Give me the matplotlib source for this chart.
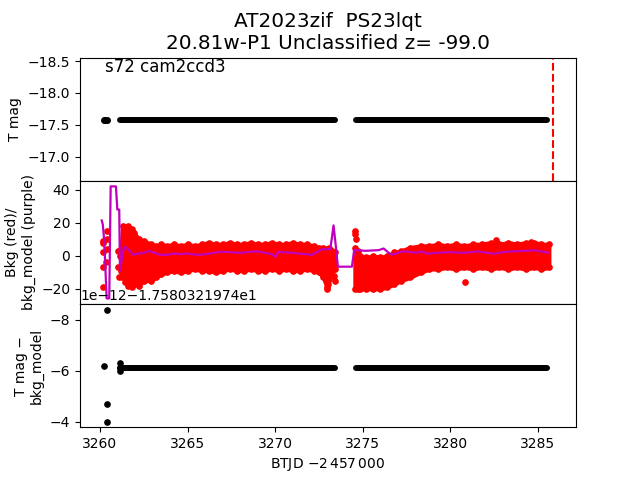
import matplotlib
matplotlib.use('Agg')
import matplotlib.pyplot as plt
from matplotlib.ticker import FuncFormatter
import numpy as np

# light curve: sector 72, cam2 ccd3
title = 'AT2023zif  PS23lqt\n20.81w-P1 Unclassified z= -99.0'
sector_label = 's72 cam2ccd3'
t_mark = 3285.86

# T mag: dense cadence rows drawn as [start, end] runs plus a few early points
row_start = [3261.17, 3274.61]
row_end = [3273.40, 3285.54]
tmag_row = -17.5803
early_t = [3260.21, 3260.30, 3260.42]
early_tmag = [-17.5803, -17.5803, -17.5803]

# background envelope (min/max of the dense red scatter), two orbits
envA_t = [3261.20, 3261.30, 3261.45, 3261.60, 3261.80, 3261.95, 3262.20, 3262.50, 3262.90,
          3263.20, 3263.50, 3263.80, 3264.20, 3264.60, 3265.00, 3265.40, 3265.80, 3266.20,
          3266.60, 3267.00, 3267.40, 3267.80, 3268.20, 3268.60, 3269.00, 3269.40, 3269.80,
          3270.20, 3270.60, 3271.00, 3271.40, 3271.80, 3272.20, 3272.50, 3272.75, 3272.95,
          3273.10, 3273.25, 3273.40]
envA_hi = [4, 18, 17, 18, 16, 14, 10, 9, 7,
           6, 7, 6, 7, 6, 7, 6, 7, 8,
           7, 7, 8, 7, 7, 8, 7, 7, 8,
           7, 7, 8, 7, 7, 6, 5, 5, 4,
           5, 3, 2]
envA_lo = [-9, -12, -16, -18, -19, -17, -18, -15, -15,
           -13, -11, -10, -9, -10, -9, -8, -9, -9,
           -10, -9, -8, -9, -9, -8, -9, -9, -8,
           -9, -8, -9, -9, -8, -9, -10, -13, -19,
           -14, -9, -8]

envB_t = [3274.55, 3274.70, 3274.85, 3275.20, 3275.60, 3276.00, 3276.40, 3276.80, 3277.20,
          3277.70, 3278.30, 3278.80, 3279.30, 3279.80, 3280.30, 3280.80, 3281.30, 3281.80,
          3282.30, 3282.80, 3283.30, 3283.80, 3284.30, 3284.80, 3285.20, 3285.62]
envB_hi = [5, 3, 0, -1, 0, -1, 0, 2, 3,
           5, 6, 6, 7, 6, 7, 6, 7, 7,
           8, 7, 8, 7, 8, 8, 7, 7]
envB_lo = [-20, -20, -20, -20, -20, -20, -19, -17, -15,
           -13, -10, -8, -8, -7, -8, -7, -8, -7,
           -8, -7, -8, -7, -8, -7, -8, -7]

# isolated background points outside the envelope
bkg_pts_t = [3260.15, 3260.15, 3260.15, 3260.15, 3260.17, 3260.38, 3260.40, 3260.42, 3260.36,
             3261.05, 3261.05, 3261.10, 3261.12, 3261.20, 3261.24,
             3272.95, 3273.00, 3273.35, 3273.38, 3273.40,
             3274.55, 3274.57, 3274.60, 3280.86, 3282.60, 3284.60]
bkg_pts = [9, 8, 2, -6.6, -19, 15, 10, 4, -4,
           3, -7, -13, 0, 3, -13,
           -20, -17, -6.5, -12, -15,
           15, 13, 10, -15.6, 9.4, 8.6]

# background model (purple)
model_t = [3260.10, 3260.16, 3260.22, 3260.30, 3260.38, 3260.53, 3260.61, 3260.91, 3260.99,
           3261.10, 3261.14, 3261.30, 3261.39, 3261.50, 3261.70, 3261.90, 3262.19, 3262.50,
           3262.76, 3262.95, 3263.43, 3263.90, 3264.20, 3264.60, 3265.00, 3265.50, 3266.10,
           3266.50, 3266.90, 3267.40, 3268.00, 3268.57, 3269.05, 3269.81, 3270.00, 3270.19,
           3270.95, 3271.52, 3272.10, 3272.67, 3273.14, 3273.24, 3273.33, 3273.43, 3273.58,
           3274.38, 3274.51, 3275.14, 3275.90, 3276.19, 3276.48, 3276.67, 3277.24, 3277.71,
           3278.00, 3278.47, 3278.67, 3279.24, 3280.00, 3280.76, 3281.52, 3282.00, 3282.48,
           3283.00, 3283.43, 3284.38, 3284.76, 3285.20, 3285.62]
model = [21.4, 19, 12, -5, -25.8, -25.8, 42, 42, 28,
         28, -9, 2, 5.4, 5, 3, 0.6, 1.4, 1.6,
         3, 2.4, 0.6, 0.6, 1.4, 1, 1.4, 0.6, 1,
         1.8, 2.4, 2.2, 1.8, 2.4, 2.6, 1, -0.6, 2.4,
         1.8, 1.2, 0.6, 4, 4, 11, 18.4, 9, -6.6,
         -6.6, 3.6, 3, 3.4, 4.4, 1.8, 0.6, 2.6, 2.4,
         1.8, 2.6, 1.2, 1.8, 2.2, 1.8, 2.6, 2.0, 1.2,
         2.2, 2.6, 3, 3.4, 2.6, 1.8]

# T mag - bkg_model (differences at the 1e-12 level)
diff_offset = -17.580321974
diff_scale = 1e-12
diff_offset_label = '1e\u221212\u22121.7580321974e1'
diff_row = -17.5803219740061
diff_pts_t = [3260.22, 3260.42, 3260.42, 3260.42, 3261.12, 3261.13, 3261.15]
diff_pts = [-17.5803219740062, -17.5803219740084, -17.5803219740047, -17.5803219740040,
            -17.5803219740063, -17.5803219740061, -17.5803219740060]


def diff_tick(v, pos):
    return ('%.0f' % ((v - diff_offset) / diff_scale)).replace('-', '\u2212')


fig, (ax1, ax2, ax3) = plt.subplots(3, 1, sharex=True, figsize=(6.4, 4.8), dpi=100)
fig.subplots_adjust(hspace=0)

# top: T mag
for t0, t1 in zip(row_start, row_end):
    ax1.plot([t0, t1], [tmag_row, tmag_row], color='k', lw=4.3, solid_capstyle='round')
ax1.plot(early_t, early_tmag, 'ko', ms=4.0)
ax1.axvline(t_mark, color='r', ls='--', lw=1.5)
ax1.set_ylim(-16.62, -18.555)
ax1.set_ylabel('T mag')
ax1.set_title(title, fontsize=14.4)
ax1.text(0.05, 0.995, sector_label, transform=ax1.transAxes, fontsize=12, va='top')

# middle: background and model
for et, ehi, elo in [(envA_t, envA_hi, envA_lo), (envB_t, envB_hi, envB_lo)]:
    ax2.fill_between(et, elo, ehi, color='r', lw=3, edgecolor='r')
    ax2.plot(et, ehi, 'o', color='r', ms=3.8)
    ax2.plot(et, elo, 'o', color='r', ms=3.8)
ax2.plot(bkg_pts_t, bkg_pts, 'o', color='r', ms=3.8)
ax2.plot(model_t, model, color='m', lw=1.6)
ax2.set_ylabel('Bkg (red)/\nbkg_model (purple)')

# bottom: T mag - bkg_model
for t0, t1 in zip(row_start, row_end):
    ax3.plot([t0, t1], [diff_row, diff_row], color='k', lw=4.3, solid_capstyle='round')
ax3.plot(diff_pts_t, diff_pts, 'ko', ms=3.8)
fmt = FuncFormatter(diff_tick)
fmt.set_offset_string(diff_offset_label)
ax3.yaxis.set_major_formatter(fmt)
ax3.invert_yaxis()
ax3.set_ylabel('T mag \u2212\nbkg_model')
ax3.set_xlabel(r'BTJD $-2\,457\,000$')
ax3.set_xlim(3258.86, 3287.17)

plt.savefig('out.png')
